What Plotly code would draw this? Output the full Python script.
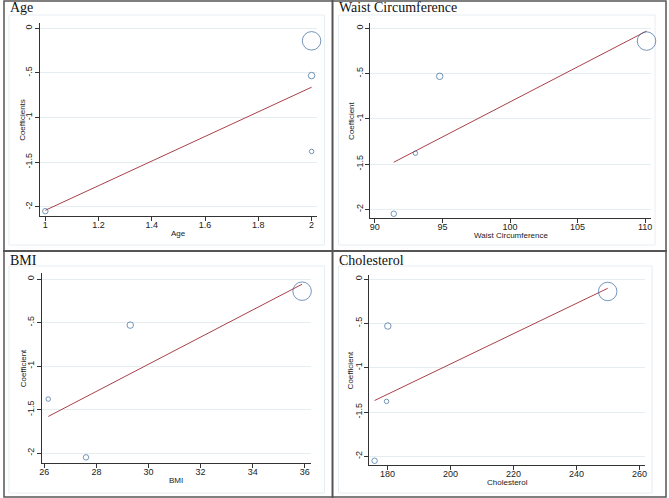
import plotly.graph_objects as go

W, H = 669, 498

# ---- data ----
coef = [-2.05, -1.38, -0.53, -0.14]
weight_size = [5.5, 4.5, 6.5, 18.5]

age_x = [1.0, 2.0, 2.0, 2.0]
age_fit_x = [1.0, 2.0]
age_fit_y = [-2.04, -0.66]

waist_x = [91.4, 93.0, 94.8, 110.1]
waist_fit_x = [91.4, 110.1]
waist_fit_y = [-1.48, -0.03]

bmi_x = [27.6, 26.15, 29.3, 35.9]
bmi_fit_x = [26.15, 35.9]
bmi_fit_y = [-1.58, -0.06]

chol_x = [175.9, 179.7, 180.1, 249.9]
chol_fit_x = [175.9, 249.9]
chol_fit_y = [-1.37, -0.105]

y_ticks = [0, -0.5, -1, -1.5, -2]
y_ticktext = ["0", "-.5", "-1", "-1.5", "-2"]

age_ticks = [1, 1.2, 1.4, 1.6, 1.8, 2]
waist_ticks = [90, 95, 100, 105, 110]
bmi_ticks = [26, 28, 30, 32, 34, 36]
chol_ticks = [180, 200, 220, 240, 260]

titles = ["Age", "Waist Circumference", "BMI", "Cholesterol"]
xtitles = ["Age", "Waist Circumference", "BMI", "Cholesterol"]
ytitles = ["Coefficients", "Coefficient", "Coefficient", "Coefficient"]

MARKER = "#3a6a9c"
LINE = "#a8414a"
AXIS = "#333333"
GRID = "#e4edf0"
BOX = "#e6eef2"
DIV = "#555555"
TXT = "#222222"
SANS = "Liberation Sans, Arial, sans-serif"
SERIF = "Liberation Serif, Times New Roman, serif"

panels = [
    dict(x=age_x, fx=age_fit_x, fy=age_fit_y, ticks=age_ticks, xr=[0.979, 2.019], yr=[-2.104, 0.06],
         px=(37, 316), py=(23, 216), box=(6, 15, 324, 245), title_pos=(5, 8), ytx=19.5),
    dict(x=waist_x, fx=waist_fit_x, fy=waist_fit_y, ticks=waist_ticks, xr=[89.66, 110.44], yr=[-2.1, 0.063],
         px=(370, 653), py=(22.7, 218.3), box=(338, 15, 657, 245), title_pos=(337, 8), ytx=351),
    dict(x=bmi_x, fx=bmi_fit_x, fy=bmi_fit_y, ticks=bmi_ticks, xr=[25.91, 36.23], yr=[-2.115, 0.069],
         px=(39.3, 310), py=(273, 463), box=(6, 266, 324, 493), title_pos=(5, 260), ytx=20.5),
    dict(x=chol_x, fx=chol_fit_x, fy=chol_fit_y, ticks=chol_ticks, xr=[174.2, 261.7], yr=[-2.101, 0.049],
         px=(369, 646.7), py=(274.7, 465.3), box=(338, 266, 654, 493), title_pos=(337, 260), ytx=350),
]

fig = go.Figure()
layout = dict(width=W, height=H, margin=dict(l=0, r=0, t=0, b=0),
              paper_bgcolor="white", plot_bgcolor="white", showlegend=False)
shapes = []
annotations = []

for i, p in enumerate(panels):
    n = "" if i == 0 else str(i + 1)
    xa, ya = "x" + n, "y" + n
    fig.add_trace(go.Scatter(x=p["fx"], y=p["fy"], mode="lines", xaxis=xa, yaxis=ya,
                             line=dict(color=LINE, width=1), hoverinfo="skip"))
    fig.add_trace(go.Scatter(x=p["x"], y=coef, mode="markers", xaxis=xa, yaxis=ya, cliponaxis=False,
                             marker=dict(symbol="circle-open", size=weight_size,
                                         color=MARKER, line=dict(color=MARKER, width=1))))
    x0, x1 = p["px"]
    y0, y1 = p["py"]
    layout["xaxis" + n] = dict(domain=[x0 / W, x1 / W], anchor=ya, range=p["xr"],
                               tickmode="array", tickvals=p["ticks"],
                               ticktext=[("%g" % t) for t in p["ticks"]],
                               showline=True, linecolor=AXIS, linewidth=1,
                               ticks="outside", ticklen=4, tickcolor=AXIS, tickwidth=1,
                               ticklabelstandoff=-4,
                               showgrid=False, zeroline=False,
                               tickfont=dict(family=SANS, size=9, color=TXT))
    layout["yaxis" + n] = dict(domain=[1 - y1 / H, 1 - y0 / H], anchor=xa, range=p["yr"],
                               tickmode="array", tickvals=y_ticks, ticktext=y_ticktext,
                               tickangle=-90, ticklabelstandoff=-1,
                               showline=True, linecolor=AXIS, linewidth=1,
                               ticks="outside", ticklen=4, tickcolor=AXIS, tickwidth=1,
                               showgrid=True, gridcolor=GRID, gridwidth=1, zeroline=False,
                               tickfont=dict(family=SANS, size=9, color=TXT))
    # axis titles
    annotations.append(dict(text=xtitles[i], xref="paper", yref="paper",
                            x=(x0 + x1) / 2 / W, y=1 - (y1 + 17.5) / H,
                            xanchor="center", yanchor="middle", showarrow=False,
                            font=dict(family=SANS, size=8, color=TXT)))
    annotations.append(dict(text=ytitles[i], xref="paper", yref="paper",
                            x=p["ytx"] / W, y=1 - (y0 + y1) / 2 / H, textangle=-90,
                            xanchor="center", yanchor="middle", showarrow=False,
                            font=dict(family=SANS, size=8, color=TXT)))
    bx0, by0, bx1, by1 = p["box"]
    shapes.append(dict(type="rect", xref="paper", yref="paper",
                       x0=bx0 / W, x1=bx1 / W, y0=1 - by1 / H, y1=1 - by0 / H,
                       line=dict(color=BOX, width=1), layer="below"))
    tx, ty = p["title_pos"]
    annotations.append(dict(text=titles[i], xref="paper", yref="paper", x=tx / W, y=1 - ty / H,
                            xanchor="left", yanchor="middle", showarrow=False,
                            font=dict(family=SERIF, size=14, color="#111")))

# dividers and outer frame
shapes.append(dict(type="line", xref="paper", yref="paper", x0=332 / W, x1=332 / W, y0=0, y1=1,
                   line=dict(color=DIV, width=2)))
shapes.append(dict(type="line", xref="paper", yref="paper", x0=0, x1=1, y0=1 - 251 / H, y1=1 - 251 / H,
                   line=dict(color=DIV, width=2)))
shapes.append(dict(type="rect", xref="paper", yref="paper", x0=1 / W, x1=668 / W, y0=1 / H, y1=1 - 1 / H,
                   line=dict(color=DIV, width=1.5)))

layout["shapes"] = shapes
layout["annotations"] = annotations
fig.update_layout(**layout)
fig.write_html("out.html", config={"displayModeBar": False},
               post_script="document.body.style.margin='0';document.body.style.overflow='hidden';")
